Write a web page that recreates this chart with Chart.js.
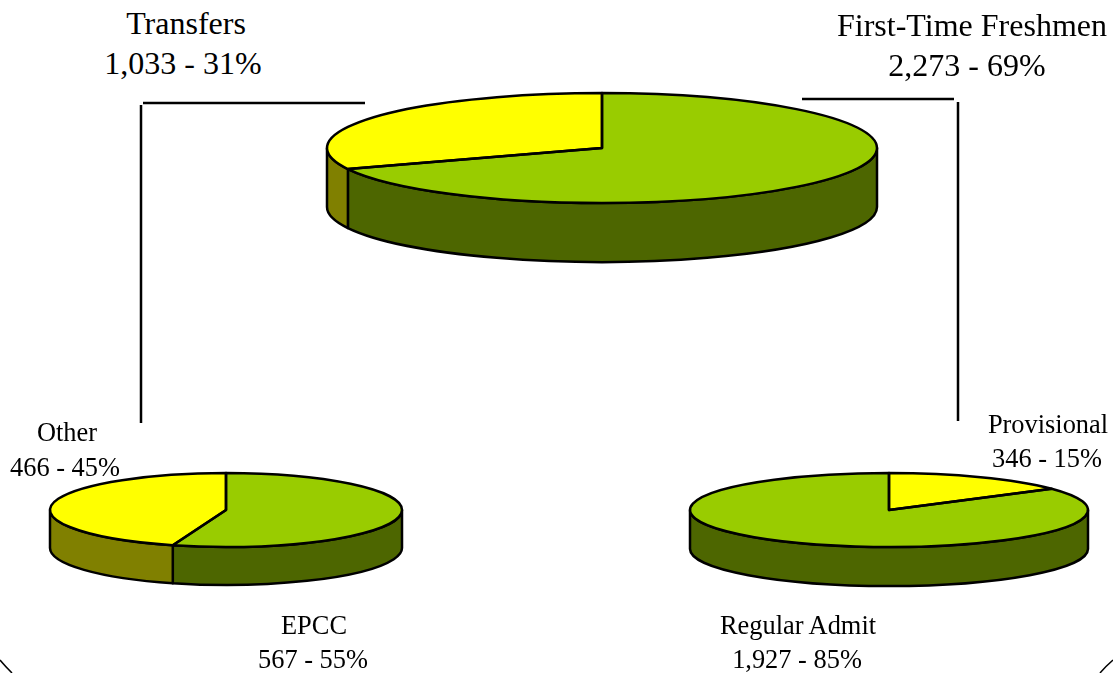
<!DOCTYPE html>
<html>
<head>
<meta charset="utf-8">
<title>Enrollment pies</title>
<script src="https://cdn.jsdelivr.net/npm/chart.js@4"></script>
<style>
    html, body { margin: 0; padding: 0; background: #fff; }
    #page { position: relative; width: 1113px; height: 673px; overflow: hidden; }
    #page canvas { position: absolute; }
    #page svg { position: absolute; left: 0; top: 0; }
    .lbl { position: absolute; transform: translateX(-50%); white-space: nowrap; color: #000;
           font-family: "Liberation Serif", serif; line-height: 1; }
</style>
</head>
<body>
<div id="page">
    <svg width="1113" height="673">
        <g stroke="#000" stroke-width="2.5" fill="none">
            <path d="M143 103H365M141 105V423"/>
            <path d="M802 99H954M958 102V421"/>
        </g>
        <g stroke="#000" stroke-width="1.5" fill="none">
            <path d="M0 660Q5 666 12 673"/>
            <path d="M1113 660Q1106 666 1100 673"/>
        </g>
    </svg>
    <canvas id="mainPie"></canvas>
    <canvas id="transferPie"></canvas>
    <canvas id="freshmenPie"></canvas>
</div>
<script>
// values
const mainLabels = ["First-Time Freshmen", "Transfers"];
const mainValues = [2273, 1033];
const transferLabels = ["EPCC", "Other"];
const transferValues = [567, 466];
const freshmenLabels = ["Provisional", "Regular Admit"];
const freshmenValues = [346, 1927];

const GREEN = "#99CC00", YELLOW = "#FFFF00";
const GREEN_SIDE = "#4D6600", YELLOW_SIDE = "#808000";
const PAD = 4;

// the library lays the slices out as a circle, this squashes them and adds the wall
const tiltPlugin = {
    id: "tilt",
    beforeDatasetDraw(chart, args, opts) {
        const ctx = chart.ctx;
        const arcs = chart.getDatasetMeta(args.index).data;
        const x = arcs[0].x, y = arcs[0].y, r = arcs[0].outerRadius;
        const ry = opts.ry, depth = opts.depth;

        ctx.save();
        ctx.lineWidth = 2.5;
        ctx.lineJoin = "round";
        ctx.strokeStyle = "#000";

        // front wall
        arcs.forEach((arc, i) => {
            const a = Math.max(arc.startAngle, 0);
            const b = Math.min(arc.endAngle, Math.PI);
            if (a >= b) return;
            ctx.beginPath();
            ctx.ellipse(x, y, r, ry, 0, a, b);
            ctx.ellipse(x, y + depth, r, ry, 0, b, a, true);
            ctx.closePath();
            ctx.fillStyle = opts.sideColors[i];
            ctx.fill();
            ctx.stroke();
        });

        // top face
        arcs.forEach(arc => {
            ctx.save();
            ctx.translate(x, y);
            ctx.scale(1, ry / r);
            ctx.translate(-x, -y);
            arc.draw(ctx);
            ctx.restore();
        });
        arcs.forEach(arc => {
            ctx.beginPath();
            ctx.moveTo(x, y);
            ctx.ellipse(x, y, r, ry, 0, arc.startAngle, arc.endAngle);
            ctx.closePath();
            ctx.stroke();
        });

        ctx.restore();
        return false;
    }
};

function makePie(id, labels, values, colors, sideColors, cx, cy, rx, ry, depth) {
    const canvas = document.getElementById(id);
    const size = 2 * (rx + PAD);
    canvas.width = size;
    canvas.height = size;
    canvas.style.left = (cx - rx - PAD) + "px";
    canvas.style.top = (cy - rx - PAD) + "px";
    new Chart(canvas, {
        type: "pie",
        data: {
            labels: labels,
            datasets: [{ data: values, backgroundColor: colors, borderWidth: 0 }]
        },
        options: {
            responsive: false,
            animation: false,
            events: [],
            layout: { padding: PAD },
            plugins: {
                legend: { display: false },
                tooltip: { enabled: false },
                tilt: { ry: ry, depth: depth, sideColors: sideColors }
            }
        },
        plugins: [tiltPlugin]
    });
}

makePie("mainPie", mainLabels, mainValues, [GREEN, YELLOW], [GREEN_SIDE, YELLOW_SIDE], 602, 148, 275, 55, 59);
makePie("transferPie", transferLabels, transferValues, [GREEN, YELLOW], [GREEN_SIDE, YELLOW_SIDE], 226, 510, 176, 37, 38);
makePie("freshmenPie", freshmenLabels, freshmenValues, [YELLOW, GREEN], [YELLOW_SIDE, GREEN_SIDE], 889, 510, 199, 37, 39);

function fmt(labelValue, total) {
    return labelValue.toLocaleString("en-US") + " - " + Math.round(labelValue / total * 100) + "%";
}
function sum(list) {
    return list.reduce((a, b) => a + b, 0);
}
function addLabel(text, cx, baseline, size) {
    const el = document.createElement("div");
    el.className = "lbl";
    el.textContent = text;
    el.style.left = cx + "px";
    el.style.fontSize = size + "px";
    el.style.top = (baseline - size * 0.8375) + "px";
    document.getElementById("page").appendChild(el);
}

addLabel(mainLabels[1], 186, 34, 32);
addLabel(fmt(mainValues[1], sum(mainValues)), 183, 74, 32);
addLabel(mainLabels[0], 972, 36, 32);
addLabel(fmt(mainValues[0], sum(mainValues)), 967, 76, 32);
addLabel(transferLabels[1], 67, 441, 26.4);
addLabel(fmt(transferValues[1], sum(transferValues)), 65, 476, 26.4);
addLabel(transferLabels[0], 314, 634, 26.4);
addLabel(fmt(transferValues[0], sum(transferValues)), 313, 668, 26.4);
addLabel(freshmenLabels[0], 1048, 433, 26.4);
addLabel(fmt(freshmenValues[0], sum(freshmenValues)), 1047, 467, 26.4);
addLabel(freshmenLabels[1], 798, 634, 26.4);
addLabel(fmt(freshmenValues[1], sum(freshmenValues)), 797, 668, 26.4);
</script>
</body>
</html>
